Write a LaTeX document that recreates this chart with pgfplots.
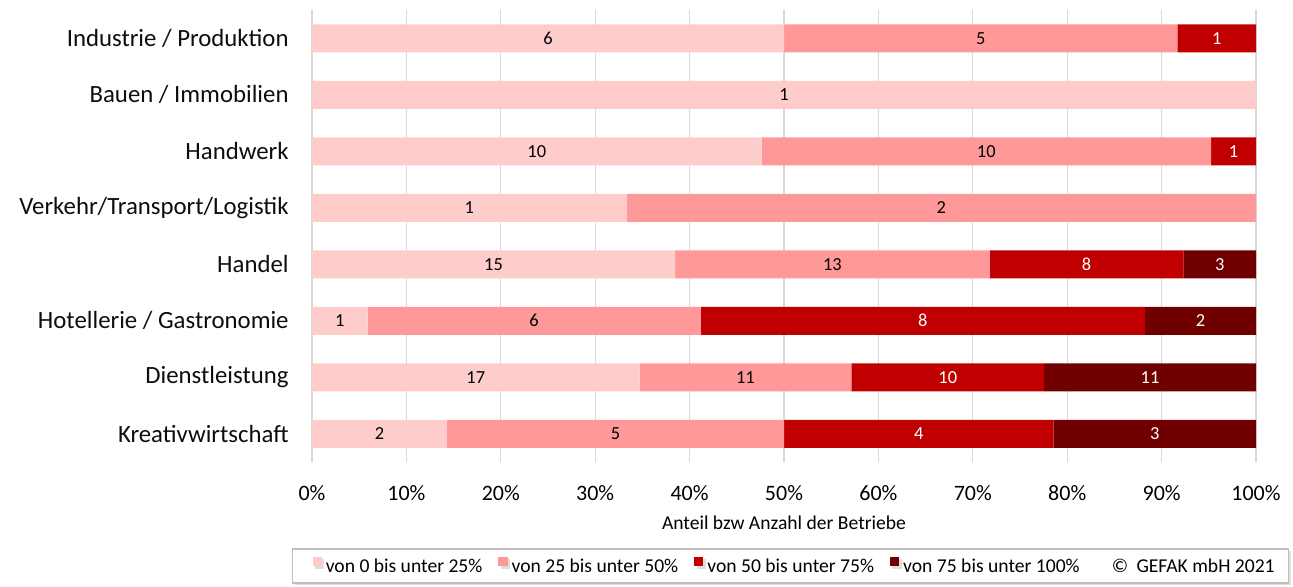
\documentclass[border=0pt]{standalone}
\usepackage{pgfplots}
\pgfplotsset{compat=1.18}
\usepackage{pgfplotstable}
\usepackage{fontspec}
\setmainfont{Carlito}
\usetikzlibrary{shadows}
\definecolor{cA}{HTML}{FFCCCC}
\definecolor{cB}{HTML}{FF9999}
\definecolor{cC}{HTML}{C00000}
\definecolor{cD}{HTML}{700000}
\definecolor{gridc}{HTML}{D9D9D9}
\definecolor{legc}{HTML}{BFBFBF}

% y: category index (0 = top), p: share in %, n: number of firms
\pgfplotstableread{
y p n
0 50.000 6
1 100.000 1
2 47.619 10
3 33.333 1
4 38.462 15
5 5.882 1
6 34.694 17
7 14.286 2
}\serA
\pgfplotstableread{
y p n
0 41.667 5
1 0 0
2 47.619 10
3 66.667 2
4 33.333 13
5 35.294 6
6 22.449 11
7 35.714 5
}\serB
\pgfplotstableread{
y p n
0 8.333 1
1 0 0
2 4.762 1
3 0 0
4 20.513 8
5 47.059 8
6 20.408 10
7 28.571 4
}\serC
\pgfplotstableread{
y p n
0 0 0
1 0 0
2 0 0
3 0 0
4 7.692 3
5 11.765 2
6 22.449 11
7 21.429 3
}\serD

\begin{document}
\begin{tikzpicture}
\path[use as bounding box] (-156pt,-62pt) rectangle (490.5pt,231pt);
\begin{axis}[
  at={(0pt,0pt)}, anchor=south west,
  scale only axis, width=472pt, height=226pt,
  xbar stacked, bar width=14pt,
  xmin=0, xmax=100, ymin=-0.5, ymax=7.5, y dir=reverse,
  xtick={0,10,...,100},
  xticklabel={\pgfmathprintnumber{\tick}\%},
  ytick={0,...,7},
  yticklabels={Industrie / Produktion, Bauen / Immobilien, Handwerk, Verkehr/Transport/Logistik, Handel, Hotellerie / Gastronomie, Dienstleistung, Kreativwirtschaft},
  xmajorgrids, major grid style={gridc, line width=0.6pt},
  axis line style={draw=none},
  major tick length=0pt,
  tick style={draw=none},
  /pgf/number format/assume math mode=true,
  xticklabel style={font=\fontsize{11}{13}\selectfont, inner sep=0pt, anchor=center, yshift=-15.5pt},
  yticklabel style={font=\fontsize{12.4}{14}\selectfont, inner sep=0pt, anchor=east, xshift=-11.5pt, text=black!95},
  xlabel={Anteil bzw Anzahl der Betriebe},
  every axis x label/.style={at={(axis description cs:0.5,0)}, anchor=center, yshift=-30.5pt, font=\fontsize{9.8}{12}\selectfont},
  point meta=explicit,
  nodes near coords={\pgfmathfloatifflags{\pgfplotspointmeta}{0}{}{\pgfmathprintnumber{\pgfplotspointmeta}}},
  every node near coord/.append style={font=\fontsize{9.2}{11}\selectfont, anchor=center},
  clip=false,
  legend columns=5,
  legend cell align=left,
  legend image code/.code={\fill[#1] (0pt,0.3pt) rectangle (4.6pt,4.9pt);},
  legend style={
    at={(-0.0212,-0.2301)}, anchor=west,
    draw=legc, fill=white, line width=0.6pt,
    font=\fontsize{9.8}{12}\selectfont,
    inner xsep=10pt, inner ysep=4pt,
    nodes={inner sep=0pt},
    /tikz/every even column/.append style={column sep=8pt},
    /tikz/every odd column/.append style={column sep=2pt},
    drop shadow={shadow xshift=1.2pt, shadow yshift=-1.2pt, fill=black!25},
  },
]
\addplot[fill=cA, draw=none, nodes near coords style={text=black}] table[x=p, y=y, meta=n] {\serA};
\addlegendentry{von 0 bis unter 25\%}
\addplot[fill=cB, draw=none, nodes near coords style={text=black}] table[x=p, y=y, meta=n] {\serB};
\addlegendentry{von 25 bis unter 50\%}
\addplot[fill=cC, draw=none, nodes near coords style={text=white}] table[x=p, y=y, meta=n] {\serC};
\addlegendentry{von 50 bis unter 75\%}
\addplot[fill=cD, draw=none, nodes near coords style={text=white}] table[x=p, y=y, meta=n] {\serD};
\addlegendentry{von 75 bis unter 100\%}
\addlegendimage{empty legend}
\addlegendentry{\hspace*{6pt}©\hspace*{2pt} GEFAK mbH 2021\hspace*{-3pt}}
\end{axis}
\end{tikzpicture}
\end{document}
